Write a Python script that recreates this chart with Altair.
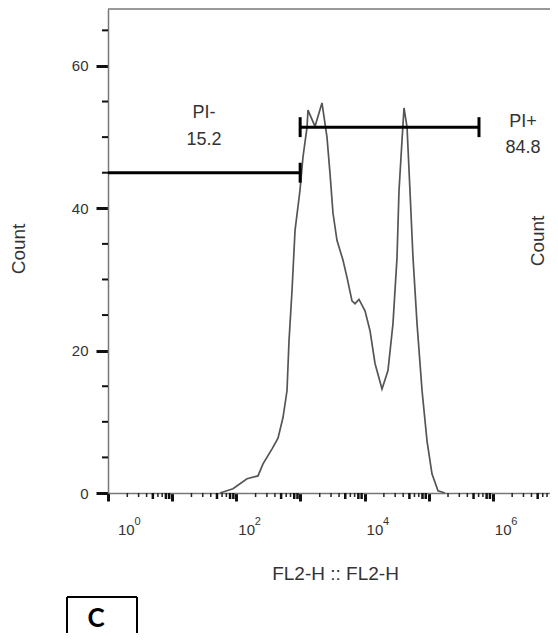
import altair as alt
import pandas as pd

# ---- histogram (FL2-H value, count) ----
curve_x = [55.7, 88.9, 146.9, 218, 261, 361, 447, 535, 618, 664, 740, 824, 984, 1096,
           1268, 1312, 1687, 2168, 2594, 2891, 3221, 3715, 4613, 5321, 6368, 7096, 8185,
           10162, 12162, 14555, 18707, 23174, 27733, 32063, 34435, 38371, 41210, 45920,
           51050, 56885, 65766, 78705, 94189, 112460, 139637, 179473]
curve_y = [0, 0.6, 2.0, 2.4, 4.1, 6.2, 7.7, 10.6, 14.4, 21.4, 28.5, 36.9, 42.5, 47.2,
           51.4, 53.8, 51.5, 54.8, 50.0, 44.9, 39.3, 35.5, 32.7, 30.3, 27.0, 26.6, 27.2,
           25.6, 22.8, 18.2, 14.6, 17.2, 23.8, 33.1, 42.5, 49.6, 54.1, 51.4, 42.5, 33.1,
           23.8, 14.4, 7.3, 2.7, 0.3, 0]

# ---- gates ----
gate_names = ["PI-", "PI+"]
gate_pct = ["15.2", "84.8"]
gate_lo = [1, 990]
gate_hi = [990, 608000]
gate_y = [45.0, 51.4]
gate_label_x = [31.4, 2.95e6]
gate_name_y = [53.4, 52.1]
gate_pct_y = [49.6, 48.5]
cap_x = [990, 990, 608000]
cap_y = [45.0, 51.4, 51.4]

# ---- axes ----
x_major = [1, 10, 100, 1000, 10000, 100000, 1000000]
x_label_vals = [1, 100, 10000, 1000000]
x_label_exp = ["0", "2", "4", "6"]
y_major = [0, 20, 40, 60]
y_minor = [5, 10, 15, 25, 30, 35, 45, 50, 55, 65]
x_minor = [m * 10 ** k for k in range(7) for m in (2, 3, 4, 6, 7) if m * 10 ** k < 7.7e6]
x_mid = [m * 10 ** k for k in range(7) for m in (5, 8, 9) if m * 10 ** k < 7.7e6]

X_MAX = 7.78e6
Y_MAX = 68
W, H = 442, 484
PAD_B = 140
FONT = "Liberation Sans"
TXT = "#333"

xs = alt.Scale(type="log", domain=[1, X_MAX])
ys = alt.Scale(domain=[0, Y_MAX])

curve_df = pd.DataFrame({"v": curve_x, "c": curve_y})
gates_df = pd.DataFrame({"name": gate_names, "pct": gate_pct, "lo": gate_lo, "hi": gate_hi,
                         "y": gate_y, "lx": gate_label_x, "ny": gate_name_y, "py": gate_pct_y})
caps_df = pd.DataFrame({"x": cap_x, "y": cap_y})
xlab_df = pd.DataFrame({"v": x_label_vals, "b": ["10"] * 4, "e": x_label_exp})

curve = alt.Chart(curve_df).mark_line(color="#555", strokeWidth=1.7).encode(
    x=alt.X("v:Q", scale=xs, axis=alt.Axis(
        values=x_major, labels=False, tickSize=8, tickWidth=3, tickColor="#111",
        domainColor="#777", domainWidth=1.5, grid=False,
        title="FL2-H :: FL2-H", titleX=227, titleY=86, titleAlign="center",
        titleBaseline="alphabetic", titleFontSize=19, titleFontWeight="normal",
        titleColor=TXT, titleFont=FONT)),
    y=alt.Y("c:Q", scale=ys, axis=alt.Axis(
        values=y_major, tickSize=12, tickWidth=3, tickColor="#111",
        domainColor="#777", domainWidth=1.5, grid=False,
        labelFontSize=15, labelColor=TXT, labelPadding=8, labelFont=FONT,
        title="Count", titleX=-89.5, titleY=239.5, titleAngle=270, titleAlign="center",
        titleBaseline="middle", titleFontSize=19, titleFontWeight="normal",
        titleColor=TXT, titleFont=FONT)),
)

top_border = alt.Chart(pd.DataFrame({"c": [Y_MAX]})).mark_rule(color="#777", strokeWidth=1.5).encode(
    y=alt.Y("c:Q", scale=ys), x=alt.value(0), x2=alt.value(W))

ymin = alt.Chart(pd.DataFrame({"c": y_minor})).mark_rule(color="#111", strokeWidth=2).encode(
    y=alt.Y("c:Q", scale=ys), x=alt.value(-6), x2=alt.value(0))
xmin = alt.Chart(pd.DataFrame({"v": x_minor})).mark_rule(color="#222", strokeWidth=1.5).encode(
    x=alt.X("v:Q", scale=xs), y=alt.value(H), y2=alt.value(H + 4))
xmid = alt.Chart(pd.DataFrame({"v": x_mid})).mark_rule(color="#111", strokeWidth=2.5).encode(
    x=alt.X("v:Q", scale=xs), y=alt.value(H), y2=alt.value(H + 6))

lab0 = alt.Chart(xlab_df).transform_filter("datum.v == 1")
labr = alt.Chart(xlab_df).transform_filter("datum.v != 1")
xl_base0 = lab0.mark_text(fontSize=15, font=FONT, color=TXT, align="left", baseline="alphabetic", dx=10).encode(
    x=alt.X("v:Q", scale=xs), y=alt.value(526), text="b:N")
xl_exp0 = lab0.mark_text(fontSize=11, font=FONT, color=TXT, align="left", baseline="alphabetic", dx=26.5).encode(
    x=alt.X("v:Q", scale=xs), y=alt.value(516), text="e:N")
xl_base = labr.mark_text(fontSize=15, font=FONT, color=TXT, align="left", baseline="alphabetic", dx=2).encode(
    x=alt.X("v:Q", scale=xs), y=alt.value(526), text="b:N")
xl_exp = labr.mark_text(fontSize=11, font=FONT, color=TXT, align="left", baseline="alphabetic", dx=18.5).encode(
    x=alt.X("v:Q", scale=xs), y=alt.value(516), text="e:N")

gate_lines = alt.Chart(gates_df).mark_rule(color="black", strokeWidth=3).encode(
    x=alt.X("lo:Q", scale=xs), x2="hi:Q", y=alt.Y("y:Q", scale=ys))
caps = alt.Chart(caps_df).transform_calculate(
    y0="datum.y - 1.4", y1="datum.y + 1.4").mark_rule(color="black", strokeWidth=3).encode(
    x=alt.X("x:Q", scale=xs), y=alt.Y("y0:Q", scale=ys), y2="y1:Q")
gname = alt.Chart(gates_df).mark_text(fontSize=18, font=FONT, color=TXT, baseline="middle").encode(
    x=alt.X("lx:Q", scale=xs), y=alt.Y("ny:Q", scale=ys), text="name:N")
gpct = alt.Chart(gates_df).mark_text(fontSize=18, font=FONT, color=TXT, baseline="middle").encode(
    x=alt.X("lx:Q", scale=xs), y=alt.Y("py:Q", scale=ys), text="pct:N")

one = pd.DataFrame({"t": ["C"], "r": ["Count"]})
box_l = alt.Chart(one).mark_rule(color="black", strokeWidth=2).encode(
    x=alt.value(-41), y=alt.value(588), y2=alt.value(H + PAD_B))
box_r = alt.Chart(one).mark_rule(color="black", strokeWidth=2).encode(
    x=alt.value(29), y=alt.value(588), y2=alt.value(H + PAD_B))
box_t = alt.Chart(one).mark_rule(color="black", strokeWidth=2).encode(
    x=alt.value(-41), x2=alt.value(29), y=alt.value(588))
box_c = alt.Chart(one).mark_text(fontSize=26, font="Lato", fontWeight="bold", color="black",
                                 align="center", baseline="middle").encode(
    x=alt.value(-12), y=alt.value(610), text="t:N")
right_count = alt.Chart(one).mark_text(fontSize=19, font=FONT, color=TXT, angle=270,
                                       align="center", baseline="middle").encode(
    x=alt.value(430), y=alt.value(232), text="r:N")

chart = alt.layer(
    curve, top_border, ymin, xmin, xmid, xl_base0, xl_exp0, xl_base, xl_exp,
    gate_lines, caps, gname, gpct, box_l, box_r, box_t, box_c, right_count
).properties(
    width=W, height=H, autosize="none",
    padding={"left": 100, "top": 1, "right": 0, "bottom": PAD_B},
).configure_view(stroke=None)

chart.save("out.html", embed_options={"renderer": "svg", "actions": False})
